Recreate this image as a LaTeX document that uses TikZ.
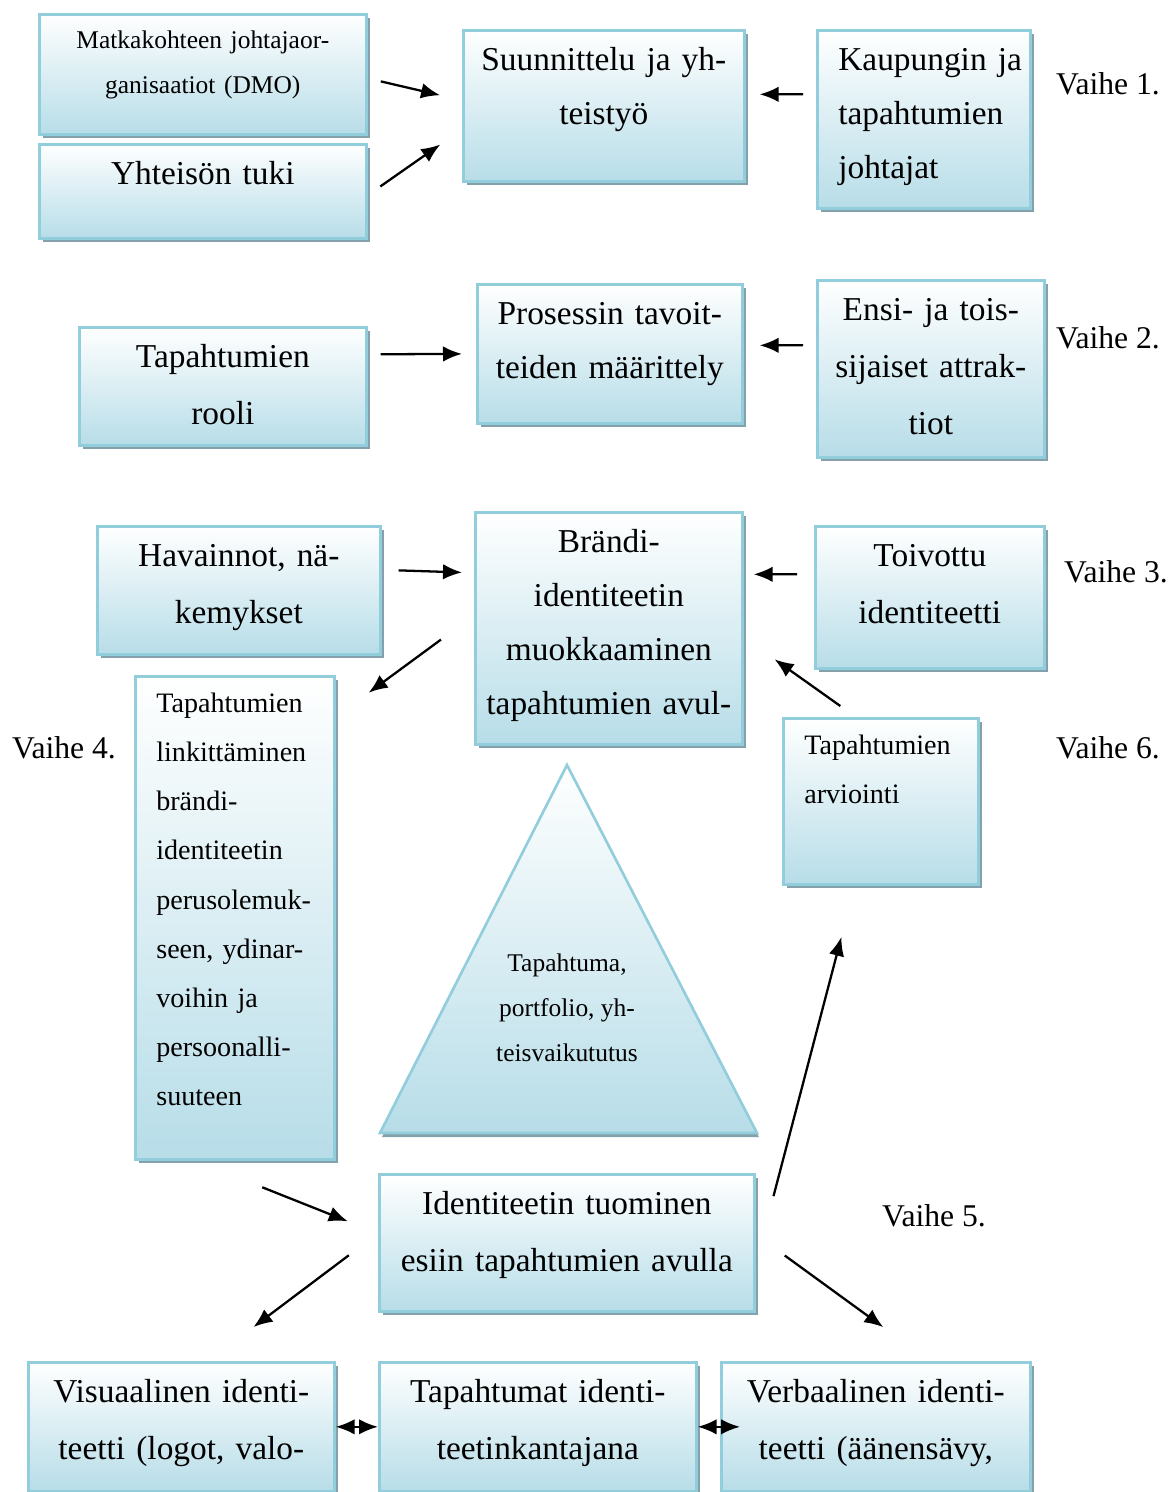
\documentclass[tikz,border=0pt]{standalone}
\usepackage{fontspec}
\setmainfont{Liberation Serif}
\usepackage{tikz}
\usepackage{xcolor}
\usetikzlibrary{shadows, arrows.meta}

\definecolor{boxfill}{RGB}{183,221,232}
\definecolor{boxline}{RGB}{146,205,220}
\definecolor{boxshadow}{RGB}{132,160,170}

\tikzset{
  stepbox/.style={draw=boxline, line width=1.5pt, top color=white, bottom color=boxfill,
    drop shadow={shadow xshift=0.08cm, shadow yshift=-0.08cm, fill=boxshadow, opacity=1},
    anchor=north west, inner sep=0pt, align=center},
  leftbox/.style={stepbox, align=left, inner xsep=0.42cm},
  bigtxt/.style={font=\fontsize{19}{32.5}\selectfont, text height=0.80cm},
  tighttxt/.style={font=\fontsize{19}{30.7}\selectfont, text height=0.80cm},
  midtxt/.style={font=\fontsize{16}{28}\selectfont, text height=0.72cm},
  smalltxt/.style={font=\fontsize{14.5}{25.6}\selectfont, text height=0.68cm},
  phase/.style={font=\fontsize{18}{22}\selectfont}
}

\begin{document}
\begin{tikzpicture}[>={Latex[length=3.8mm,width=3.1mm]}, line width=1.3pt]
    \useasboundingbox (0,0) rectangle (23.48,-29.84);

    % Vaihe 1.
    \node[stepbox, smalltxt, text width=6.54cm, text depth=1.72cm] (dmo) at (0.76,-0.26) {Matkakohteen johtajaor-\\ganisaatiot (DMO)};
    \node[stepbox, bigtxt, text width=6.54cm, text depth=1.08cm] (tuki) at (0.76,-2.86) {Yhteisön tuki};
    \node[stepbox, tighttxt, text width=5.62cm, text depth=2.22cm] (plan) at (9.24,-0.58) {Suunnittelu ja yh-\\teistyö};
    \node[leftbox, tighttxt, text width=3.42cm, text depth=2.76cm] (city) at (16.32,-0.58) {Kaupungin~ja\\tapahtumien\\johtajat};
    \node[phase] (v1) at (22.16,-1.68) {Vaihe 1.};

    % Vaihe 2.
    \node[stepbox, bigtxt, text width=5.74cm, text depth=1.56cm] (role) at (1.56,-6.52) {Tapahtumien\\rooli};
    \node[stepbox, tighttxt, text width=5.30cm, text depth=1.98cm] (goals) at (9.52,-5.66) {Prosessin tavoit-\\teiden määrittely};
    \node[stepbox, bigtxt, text width=4.54cm, text depth=2.74cm] (attr) at (16.32,-5.58) {Ensi- ja tois-\\sijaiset attrak-\\tiot};
    \node[phase] (v2) at (22.16,-6.76) {Vaihe 2.};

    % Vaihe 3.
    \node[stepbox, bigtxt, text width=5.66cm, text depth=1.76cm] (obs) at (1.92,-10.50) {Havainnot, nä-\\kemykset};
    \node[stepbox, tighttxt, text width=5.34cm, text depth=3.84cm] (brand) at (9.48,-10.22) {Brändi-\\identiteetin\\muokkaaminen\\tapahtumien avul-};
    \node[stepbox, bigtxt, text width=4.58cm, text depth=2.04cm] (wish) at (16.28,-10.50) {Toivottu\\identiteetti};
    \node[phase] (v3) at (22.32,-11.44) {Vaihe 3.};

    % Vaihe 4. ja 6.
    \node[leftbox, midtxt, text width=3.14cm, text depth=8.94cm] (link) at (2.68,-13.50) {Tapahtumien\\linkittäminen\\brändi-\\identiteetin\\perusolemuk-\\seen, ydinar-\\voihin ja\\persoonalli-\\suuteen};
    \node[phase] (v4) at (1.28,-14.96) {Vaihe 4.};
    \node[leftbox, midtxt, text width=3.06cm, text depth=2.60cm] (eval) at (15.64,-14.34) {Tapahtumien\\arviointi};
    \node[phase] (v6) at (22.16,-14.96) {Vaihe 6.};

    % kolmio
    \shade[top color=white, bottom color=boxfill, draw=boxline, line width=1.5pt,
      drop shadow={shadow xshift=0.04cm, shadow yshift=-0.08cm, fill=boxshadow, opacity=1}]
      (11.34,-15.30) -- (15.14,-22.66) -- (7.60,-22.66) -- cycle;
    \node[align=center, font=\fontsize{14.5}{25.6}\selectfont] (core) at (11.34,-20.16) {Tapahtuma,\\portfolio, yh-\\teisvaikututus};

    % Vaihe 5.
    \node[stepbox, bigtxt, text width=7.50cm, text depth=1.94cm] (show) at (7.56,-23.46) {Identiteetin tuominen\\esiin tapahtumien avulla};
    \node[phase] (v5) at (18.68,-24.32) {Vaihe 5.};
    \node[stepbox, bigtxt, text width=6.12cm, text depth=1.78cm] (visual) at (0.54,-27.22) {Visuaalinen identi-\\teetti (logot, valo-};
    \node[stepbox, bigtxt, text width=6.34cm, text depth=1.78cm] (carrier) at (7.56,-27.22) {Tapahtumat identi-\\teetinkantajana};
    \node[stepbox, bigtxt, text width=6.18cm, text depth=1.78cm] (verbal) at (14.40,-27.22) {Verbaalinen identi-\\teetti (äänensävy,};

    % nuolet
    \draw[->, shorten <=0.27cm, shorten >=0.45cm] ([yshift=-0.08cm]dmo.east) -- ([yshift=0.11cm]plan.west);
    \draw[->, shorten <=0.31cm, shorten >=0.53cm] ([yshift=-0.08cm]tuki.east) -- ([yshift=-0.47cm]plan.west);
    \draw[->, shorten <=0.26cm, shorten >=0.28cm] ([yshift=0.50cm]city.west) -- ([yshift=0.23cm]plan.east);
    \draw[->, shorten <=0.26cm, shorten >=0.28cm] ([yshift=0.64cm]role.east) -- (goals.west);
    \draw[->, shorten <=0.26cm, shorten >=0.32cm] ([yshift=0.47cm]attr.west) -- ([yshift=0.17cm]goals.east);
    \draw[->, shorten <=0.34cm, shorten >=0.24cm] ([yshift=0.41cm]obs.east) -- ([yshift=1.11cm]brand.west);
    \draw[->, shorten <=0.34cm, shorten >=0.20cm] ([yshift=0.46cm]wish.west) -- ([yshift=1.08cm]brand.east);
    \draw[->, shorten <=0.82cm, shorten >=0.82cm] ([yshift=0.26cm]brand.west) -- ([yshift=-0.84cm]link.north east);
    \draw[->, shorten <=0.38cm, shorten >=0.76cm] ([xshift=-0.50cm]eval.north) -- ([yshift=-0.18cm]brand.east);
    \draw[->, shorten <=1.44cm, shorten >=0.65cm] ([xshift=-0.79cm]link.south) -- ([yshift=0.19cm]show.west);
    \draw[->, shorten <=0.73cm, shorten >=1.13cm] ([yshift=0.19cm]show.west) -- ([xshift=0.54cm]visual.north);
    \draw[->, shorten <=1.41cm, shorten >=1.06cm] ([yshift=-0.43cm]show.east) -- ([xshift=-0.52cm]eval.south);
    \draw[->, shorten <=0.72cm, shorten >=1.15cm] ([yshift=0.17cm]show.east) -- ([xshift=1.08cm]verbal.north);
    \draw[<->] (visual.east) -- (carrier.west);
    \draw[<->, shorten >=-0.40cm] (carrier.east) -- (verbal.west);
\end{tikzpicture}
\end{document}
